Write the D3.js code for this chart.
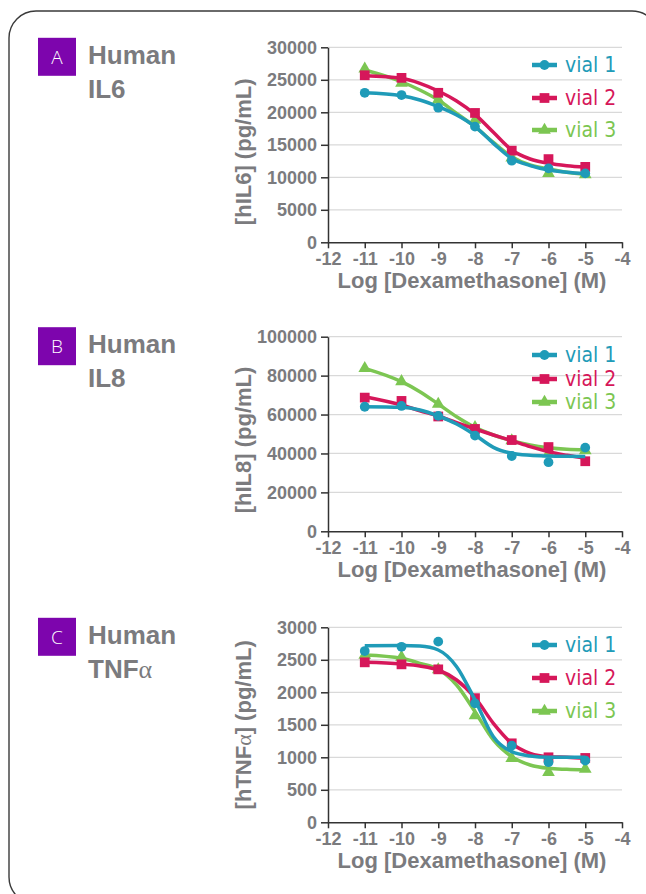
<!DOCTYPE html>
<html lang="en">
<head>
  <meta charset="UTF-8">
  <title>Dexamethasone dose response</title>
  <style>
    body { margin: 0; background: #fff; }
    svg { display: block; }
    .tick text { font-family: "Liberation Sans", Arial, sans-serif; font-weight: bold; font-size: 18px; fill: #7b7b7e; }
    .axis-title { font-family: "Liberation Sans", Arial, sans-serif; font-weight: bold; font-size: 22px; fill: #7b7b7e; }
    .panel-name { font-family: "Liberation Sans", Arial, sans-serif; font-weight: bold; font-size: 26px; fill: #7b7b7e; }
    .legend text { font-family: "Liberation Sans Narrow", "DejaVu Sans Condensed", sans-serif; font-size: 21px; }
    .alpha { font-family: "Liberation Serif", "DejaVu Serif", serif; font-weight: normal; }
  </style>
</head>
<body>
  <svg id="chart"></svg>
  <script src="https://cdnjs.cloudflare.com/ajax/libs/d3/7.8.5/d3.min.js"></script>
  <script>
    // data
    const doses = [-11, -10, -9, -8, -7, -6, -5];
    const fitDoses = [-11, -10, -9.5, -9, -8.5, -8, -7.5, -7, -6.5, -6, -5.5, -5];
    const xTicks = [-12, -11, -10, -9, -8, -7, -6, -5, -4];
    const vials = ["vial 1", "vial 2", "vial 3"];

    const il6Ticks = [0, 5000, 10000, 15000, 20000, 25000, 30000];
    const il6Points = [
      [23000, 22650, 20710, 17800, 12550, 11380, 10610],
      [25700, 25300, 23000, 19900, 14100, 12800, 11600],
      [26700, 24500, 21900, 18800, 13000, 10600, 10400]
    ];
    const il6Fit = [
      [23020, 22560, 21900, 20870, 19580, 17790, 15230, 12900, 11800, 11120, 10770, 10550],
      [25630, 25230, 24460, 23280, 21740, 19690, 16920, 14200, 12815, 12150, 11790, 11585],
      [26500, 24700, 23430, 21890, 19840, 17790, 15380, 13170, 11890, 11280, 10770, 10460]
    ];

    const il8Ticks = [0, 20000, 40000, 60000, 80000, 100000];
    const il8Points = [
      [64000, 64400, 59300, 49200, 38700, 35500, 43000],
      [68700, 67000, 59000, 52600, 46900, 43300, 36000],
      [83800, 77000, 65400, 53400, 46600, 40000, 41500]
    ];
    const il8Fit = [
      [64030, 63700, 62330, 59250, 55140, 49490, 43160, 40080, 39050, 38700, 38560, 38500],
      [69170, 64900, 61970, 59250, 55810, 52570, 49490, 46560, 43480, 40910, 39050, 37510],
      [83760, 76900, 71750, 65400, 58900, 53440, 49490, 46560, 44350, 42960, 42140, 41780]
    ];

    const tnfTicks = [0, 500, 1000, 1500, 2000, 2500, 3000];
    const tnfPoints = [
      [2635, 2700, 2780, 1830, 1180, 925, 950],
      [2461, 2430, 2353, 1910, 1215, 1000, 990],
      [2574, 2540, 2350, 1640, 985, 770, 820]
    ];
    const tnfFit = [
      [2717, 2720, 2712, 2651, 2394, 1882, 1317, 1086, 1020, 1000, 1000, 1000],
      [2461, 2435, 2405, 2343, 2189, 1917, 1523, 1215, 1061, 1009, 1000, 985],
      [2574, 2523, 2446, 2354, 2112, 1702, 1266, 1009, 882, 831, 815, 805]
    ];

    const colors = ["#1f9bb8", "#d6175a", "#7cc652"];
    const symbols = [d3.symbolCircle, d3.symbolSquare, d3.symbolTriangle];
    const symbolSizes = [75, 95, 70];

    const panels = [
      { letter: "A", name: ["Human", "IL6"], analyte: "hIL6", ticks: il6Ticks, pts: il6Points, fit: il6Fit,
        top: 47.3, bottom: 242.3, titleShift: 7, legendY: [65, 98, 130] },
      { letter: "B", name: ["Human", "IL8"], analyte: "hIL8", ticks: il8Ticks, pts: il8Points, fit: il8Fit,
        top: 336.7, bottom: 531.3, titleShift: 6, legendY: [355, 379, 402] },
      { letter: "C", name: ["Human", "TNF"], analyte: "hTNF", alpha: true, ticks: tnfTicks, pts: tnfPoints, fit: tnfFit,
        top: 627.3, bottom: 822.3, titleShift: 0, legendY: [645, 678, 711] }
    ];

    const width = 646, height = 894;
    const svg = d3.select("#chart").attr("width", width).attr("height", height);

    // frame
    svg.append("rect")
      .attr("x", 9).attr("y", 11)
      .attr("width", 650).attr("height", 893)
      .attr("rx", 27)
      .attr("fill", "none")
      .attr("stroke", "#3a3a3a")
      .attr("stroke-width", 1.4);

    const x = d3.scaleLinear().domain([-12, -4]).range([328, 622]);

    panels.forEach(p => {
      const g = svg.append("g");
      const y = d3.scaleLinear().domain([0, d3.max(p.ticks)]).range([p.bottom, p.top]);
      const boxTop = p.top - 9.5;

      // letter badge + name
      g.append("rect")
        .attr("x", 38).attr("y", boxTop)
        .attr("width", 38).attr("height", 38)
        .attr("fill", "#7d05ad");
      g.append("text")
        .attr("x", 57).attr("y", boxTop + 19)
        .attr("text-anchor", "middle")
        .attr("dominant-baseline", "central")
        .attr("font-family", "'Open Sans', 'Noto Sans', sans-serif")
        .attr("font-weight", 300)
        .attr("font-size", 19)
        .attr("fill", "#fff")
        .text(p.letter);
      g.append("text").attr("class", "panel-name")
        .attr("x", 88).attr("y", boxTop + 26)
        .text(p.name[0]);
      const n2 = g.append("text").attr("class", "panel-name")
        .attr("x", 88).attr("y", boxTop + 60)
        .text(p.name[1]);
      if (p.alpha) n2.append("tspan").attr("class", "alpha").text("α");

      // grid
      g.append("g")
        .selectAll("line")
        .data(p.ticks.filter(t => t > 0))
        .join("line")
        .attr("x1", x(-12)).attr("x2", x(-4))
        .attr("y1", d => y(d)).attr("y2", d => y(d))
        .attr("stroke", "#d9d9d9")
        .attr("stroke-width", 1.2);

      // axes
      const yAxis = g.append("g")
        .attr("transform", `translate(${x(-12)},0)`)
        .call(d3.axisLeft(y).tickValues(p.ticks).tickFormat(d => String(d)).tickSize(7).tickPadding(4).tickSizeOuter(0));
      const xAxis = g.append("g")
        .attr("transform", `translate(0,${p.bottom})`)
        .call(d3.axisBottom(x).tickValues(xTicks).tickFormat(d => String(d)).tickSize(6).tickPadding(3).tickSizeOuter(0));
      [yAxis, xAxis].forEach(a => {
        a.select(".domain").attr("stroke", "#333").attr("stroke-width", 1.5);
        a.selectAll(".tick line").attr("stroke", "#333").attr("stroke-width", 1.5);
      });
      xAxis.selectAll(".tick text").attr("dy", "0.75em");

      // axis titles
      g.append("text").attr("class", "axis-title")
        .attr("x", 472).attr("y", p.bottom + 46)
        .attr("text-anchor", "middle")
        .text("Log [Dexamethasone] (M)");
      const yt = g.append("text").attr("class", "axis-title")
        .attr("transform", `translate(243,${(p.top + p.bottom) / 2 + p.titleShift}) rotate(-90)`)
        .attr("text-anchor", "middle")
        .attr("dominant-baseline", "central");
      yt.append("tspan").text("[" + p.analyte);
      if (p.alpha) yt.append("tspan").attr("class", "alpha").text("α");
      yt.append("tspan").text("] (pg/mL)");

      // fitted curves and points
      const line = d3.line()
        .x((d, i) => x(fitDoses[i]))
        .y(d => y(d))
        .curve(d3.curveMonotoneX);
      [2, 1, 0].forEach(k => {
        g.append("path")
          .datum(p.fit[k])
          .attr("d", line)
          .attr("fill", "none")
          .attr("stroke", colors[k])
          .attr("stroke-width", 3.5);
        g.append("g")
          .selectAll("path")
          .data(p.pts[k])
          .join("path")
          .attr("transform", (d, i) => `translate(${x(doses[i])},${y(d)})`)
          .attr("d", d3.symbol(symbols[k], symbolSizes[k]))
          .attr("fill", colors[k]);
      });

      // legend
      const lg = g.append("g").attr("class", "legend");
      vials.forEach((v, k) => {
        const ly = p.legendY[k];
        lg.append("line")
          .attr("x1", 532).attr("x2", 557)
          .attr("y1", ly).attr("y2", ly)
          .attr("stroke", colors[k]).attr("stroke-width", 4.5);
        lg.append("path")
          .attr("transform", `translate(544.5,${ly})`)
          .attr("d", d3.symbol(symbols[k], symbolSizes[k]))
          .attr("fill", colors[k]);
        lg.append("text")
          .attr("x", 565).attr("y", ly)
          .attr("dominant-baseline", "central")
          .attr("fill", colors[k])
          .text(v);
      });
    });
  </script>
</body>
</html>
